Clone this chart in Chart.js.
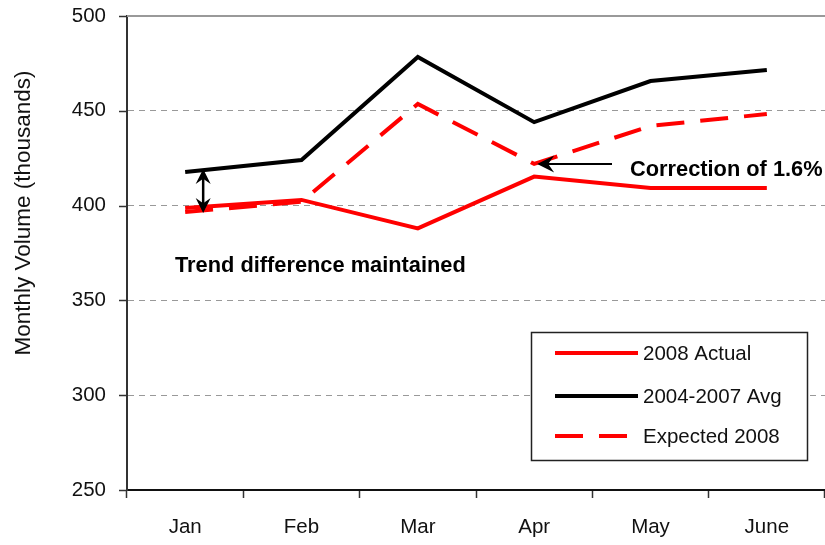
<!DOCTYPE html>
<html>
<head>
<meta charset="utf-8">
<script src="https://cdn.jsdelivr.net/npm/chart.js@4/dist/chart.umd.min.js"></script>
<style>
  html, body { margin: 0; padding: 0; background: #fff; }
  #wrap { width: 825px; height: 545px; }
</style>
</head>
<body>
<div id="wrap"><canvas id="chartCanvas" width="825" height="545"></canvas></div>
<script>
// Chart data
const months = ['Jan', 'Feb', 'Mar', 'Apr', 'May', 'June'];
const actual2008 = [398.7, 403, 388, 415.3, 409.3, 409.3];
const avg2004to2007 = [417.7, 424, 478.4, 444, 465.7, 471.5];
const expected2008 = [396.6, 402, 453.6, 422, 442, 448.3];
const yTicks = [250, 300, 350, 400, 450, 500];

const FONT = "'Liberation Sans', Arial, sans-serif";

function drawArrowHead(ctx, x, y, angle, size) {
    ctx.save();
    ctx.translate(x, y);
    ctx.rotate(angle);
    ctx.beginPath();
    ctx.moveTo(0, 0);
    ctx.lineTo(-size, -size * 0.5);
    ctx.lineTo(-size * 0.65, 0);
    ctx.lineTo(-size, size * 0.5);
    ctx.closePath();
    ctx.fill();
    ctx.restore();
}

// Extra drawing: top border, y tick marks, axis title, annotations, legend box
const extrasPlugin = {
    id: 'extras',
    beforeDatasetsDraw(chart) {
        const { ctx, chartArea } = chart;
        const yScale = chart.scales.y;
        ctx.save();
        // solid top line
        ctx.strokeStyle = '#999';
        ctx.lineWidth = 2;
        ctx.beginPath();
        ctx.moveTo(chartArea.left, chartArea.top);
        ctx.lineTo(chartArea.right, chartArea.top);
        ctx.stroke();
        // y tick marks outside the axis
        ctx.strokeStyle = '#333';
        ctx.lineWidth = 1.5;
        yTicks.forEach(v => {
            const py = Math.round(yScale.getPixelForValue(v)) + 0.5;
            ctx.beginPath();
            ctx.moveTo(chartArea.left - 8, py);
            ctx.lineTo(chartArea.left, py);
            ctx.stroke();
        });
        ctx.restore();
    },
    afterDatasetsDraw(chart) {
        const { ctx } = chart;
        const xScale = chart.scales.x;
        const yScale = chart.scales.y;
        ctx.save();

        // y axis title
        ctx.fillStyle = '#111';
        ctx.font = `22.5px ${FONT}`;
        ctx.textAlign = 'center';
        ctx.textBaseline = 'middle';
        ctx.translate(24, 213);
        ctx.rotate(-Math.PI / 2);
        ctx.fillText('Monthly Volume (thousands)', 0, 0);
        ctx.setTransform(1, 0, 0, 1, 0, 0);

        // double arrow between the Jan values
        const ax = xScale.getPixelForValue(0) + 18;
        const yTop = yScale.getPixelForValue(avg2004to2007[0]) - 3;
        const yBot = yScale.getPixelForValue(actual2008[0]) + 5;
        ctx.strokeStyle = '#000';
        ctx.fillStyle = '#000';
        ctx.lineWidth = 2.5;
        ctx.beginPath();
        ctx.moveTo(ax, yTop + 6);
        ctx.lineTo(ax, yBot - 6);
        ctx.stroke();
        drawArrowHead(ctx, ax, yTop, -Math.PI / 2, 15);
        drawArrowHead(ctx, ax, yBot, Math.PI / 2, 15);

        ctx.font = `bold 21.8px ${FONT}`;
        ctx.textAlign = 'left';
        ctx.textBaseline = 'alphabetic';
        ctx.fillStyle = '#000';
        ctx.fillText('Trend difference maintained', 175, 272);

        // correction arrow pointing at expected Apr
        const tipX = xScale.getPixelForValue(3) + 3;
        const tipY = yScale.getPixelForValue(expected2008[3]);
        ctx.lineWidth = 2;
        ctx.beginPath();
        ctx.moveTo(612, tipY);
        ctx.lineTo(tipX + 8, tipY);
        ctx.stroke();
        drawArrowHead(ctx, tipX, tipY, Math.PI, 17);
        ctx.fillText('Correction of 1.6%', 630, 176);

        // legend box
        const lx = 531, ly = 332, lw = 276, lh = 128;
        ctx.fillStyle = '#fff';
        ctx.fillRect(lx, ly, lw, lh);
        ctx.strokeStyle = '#222';
        ctx.lineWidth = 1.5;
        ctx.strokeRect(lx + 0.5, ly + 0.5, lw, lh);
        const rows = [353, 396, 436];
        ctx.font = `20.5px ${FONT}`;
        ctx.textBaseline = 'middle';
        chart.data.datasets.forEach((ds, i) => {
            const ry = rows[i];
            ctx.strokeStyle = ds.borderColor;
            ctx.lineWidth = ds.borderWidth;
            ctx.setLineDash(ds.borderDash || []);
            ctx.beginPath();
            ctx.moveTo(555, ry);
            ctx.lineTo(638, ry);
            ctx.stroke();
            ctx.setLineDash([]);
            ctx.fillStyle = '#111';
            ctx.fillText(ds.label, 643, ry + 1);
        });
        ctx.restore();
    }
};

const ctx = document.getElementById('chartCanvas').getContext('2d');
const chart = new Chart(ctx, {
    type: 'line',
    data: {
        labels: months,
        datasets: [
            {
                label: '2008 Actual',
                data: actual2008,
                borderColor: '#ff0000',
                borderWidth: 4,
                pointRadius: 0,
                tension: 0
            },
            {
                label: '2004-2007 Avg',
                data: avg2004to2007,
                borderColor: '#000000',
                borderWidth: 4,
                pointRadius: 0,
                tension: 0
            },
            {
                label: 'Expected 2008',
                data: expected2008,
                borderColor: '#ff0000',
                borderWidth: 4,
                borderDash: [28, 16],
                pointRadius: 0,
                tension: 0
            }
        ]
    },
    options: {
        responsive: false,
        animation: false,
        layout: { padding: { top: 16, right: 0, left: 0, bottom: 0 } },
        plugins: {
            legend: { display: false },
            tooltip: { enabled: false }
        },
        scales: {
            x: {
                offset: true,
                grid: {
                    display: true,
                    offset: true,
                    drawOnChartArea: false,
                    drawTicks: true,
                    tickLength: 8,
                    tickColor: '#333',
                    tickWidth: 1.5
                },
                border: { display: true, color: '#111', width: 2 },
                ticks: {
                    color: '#111',
                    padding: 17,
                    font: { family: FONT, size: 20.5 },
                    maxRotation: 0
                },
                afterFit(scale) {
                    scale.height = 55;
                    scale.paddingLeft = 0;
                    scale.paddingRight = 0;
                }
            },
            y: {
                min: 250,
                max: 500,
                afterBuildTicks(scale) {
                    scale.ticks = yTicks.map(v => ({ value: v }));
                },
                grid: {
                    color: '#999',
                    lineWidth: 1,
                    drawTicks: false
                },
                border: { display: true, color: '#333', width: 2, dash: [6, 5] },
                ticks: {
                    color: '#111',
                    padding: 21,
                    font: { family: FONT, size: 20.5 }
                },
                afterFit(scale) {
                    scale.width = 127;
                    scale.paddingTop = 0;
                    scale.paddingBottom = 0;
                }
            }
        }
    },
    plugins: [extrasPlugin]
});
</script>
</body>
</html>
